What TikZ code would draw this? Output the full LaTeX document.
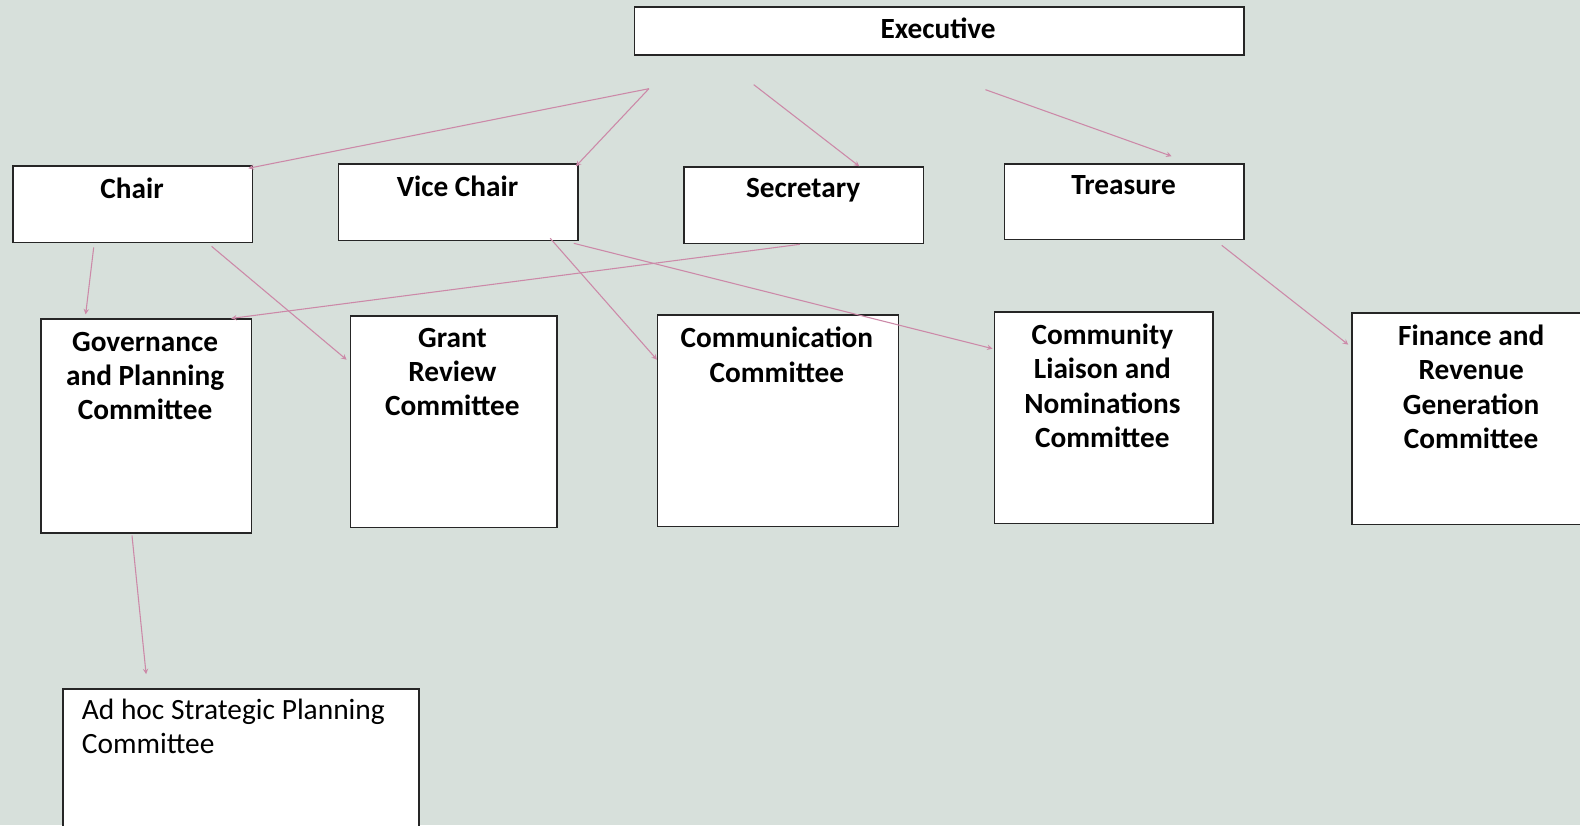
\documentclass[tikz,border=0pt]{standalone}
\usepackage{fontspec}
\setmainfont{Carlito}
\usetikzlibrary{calc}

\definecolor{bgcol}{RGB}{215,224,219}
\definecolor{linkcol}{RGB}{204,137,168}

\tikzset{
  box/.style={draw=black!85, fill=white, line width=1.1pt, anchor=north west, inner sep=0pt},
  bw/.style={minimum width=#1*0.75pt},
  bh/.style={minimum height=#1*0.75pt},
  head/.style={font=\bfseries\fontsize{21.8}{25.5}\selectfont, align=center},
  plain/.style={font=\fontsize{21.9}{26}\selectfont, align=left, anchor=north west, inner sep=0pt},
  link/.style={draw=linkcol, line width=0.8pt, ->, >=stealth}
}

\begin{document}
\begin{tikzpicture}[x=0.75pt, y=-0.75pt]

\fill[bgcol] (0,0) rectangle (1568,819);
\clip (0,0) rectangle (1568,819);

% top row
\node[box, bw=605, bh=48] (exec) at (629,6) {};
\node[box, bw=238, bh=76] (chair) at (12,164) {};
\node[box, bw=238, bh=76] (vice) at (335,162) {};
\node[box, bw=238, bh=76] (sec) at (678,165) {};
\node[box, bw=238, bh=75] (treas) at (996,162) {};

% committees
\node[box, bw=209, bh=212] (gov) at (40,316) {};
\node[box, bw=205, bh=210] (grant) at (347,313) {};
\node[box, bw=239, bh=210] (comm) at (652,312) {};
\node[box, bw=217, bh=210] (liaison) at (986,309) {};
\node[box, bw=238, bh=210] (fin) at (1341,310) {};
\node[box, bw=353, bh=170] (adhoc) at (62,683) {};

% texts
\node[head] (execT) at (931,28) {Executive};
\node[head] (chairT) at (131,187) {Chair};
\node[head] (viceT) at (454,185) {Vice Chair};
\node[head] (secT) at (797,189) {Secretary};
\node[head] (treasT) at (1115,184) {Treasure};
\node[head] (govT) at (144,373) {Governance\\and Planning\\Committee};
\node[head] (grantT) at (449,369) {Grant\\Review\\Committee};
\node[head] (commT) at (771,352) {Communication\\Committee};
\node[head] (liaisonT) at (1094,383) {Community\\Liaison and\\Nominations\\Committee};
\node[head] (finT) at (1460,384) {Finance and\\Revenue\\Generation\\Committee};
\node[plain] (adhocT) at (81,693) {Ad hoc Strategic Planning\\Committee};

% arrows
\coordinate (e1) at (644,88);
\coordinate (e2) at (748,84);
\coordinate (e3) at (978,89);

\draw[link] (e1) -- ($(chair.north east)+(-5,3)$);
\draw[link] (e1) -- ($(vice.north east)+(-3,3)$);
\draw[link] (e2) -- ($(sec.north)+(55,0)$);
\draw[link] (e3) -- ($(treas.north)+(47,-7)$);

\draw[link] ($(chair.south west)+(81,4)$) -- ($(gov.north west)+(45,-4)$);
\draw[link] ($(chair.south west)+(198,3)$) -- ($(grant.north west)+(-3,44)$);
\draw[link] ($(vice.south west)+(211,-3)$) -- ($(comm.north west)+(0,45)$);
\draw[link] ($(vice.south east)+(-5,2)$) -- ($(liaison.north west)+(-1,37)$);
\draw[link] ($(sec.south)+(-4,0)$) -- ($(gov.north east)+(-21,0)$);
\draw[link] ($(treas.south east)+(-23,5)$) -- ($(fin.north west)+(-3,32)$);
\draw[link] ($(gov.south west)+(91,2)$) -- ($(adhoc.north west)+(83,-14)$);

\end{tikzpicture}
\end{document}
